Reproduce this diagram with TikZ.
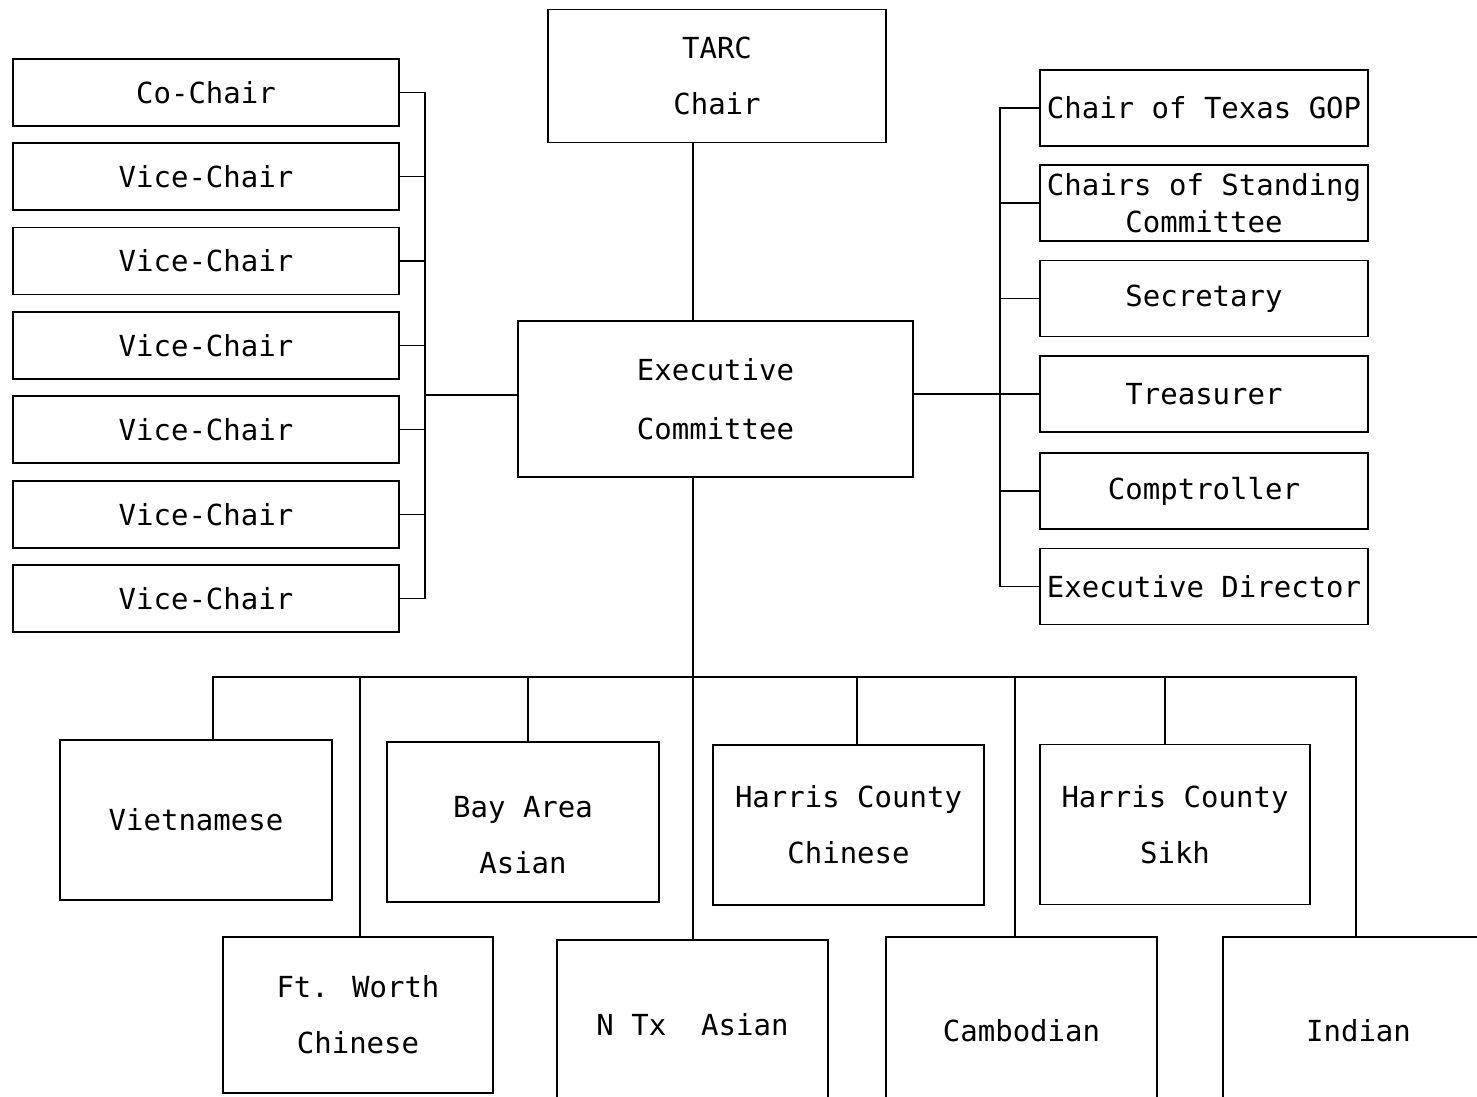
\documentclass[tikz,border=0pt]{standalone}
\usepackage{fontspec}
\newfontfamily\plotfont{DejaVu Sans Mono}
\begin{document}
\begin{tikzpicture}[x=1pt,y=-1pt,
  every node/.style={font=\plotfont\fontsize{29}{56}\selectfont},
  box/.style={draw,line width=1.6pt,rectangle,inner sep=0pt,align=center},
  lbox/.style={box,minimum width=386,minimum height=67},
  rbox/.style={box,minimum width=328,minimum height=76},
  gbox/.style={box,minimum width=271,minimum height=160},
  conn/.style={line width=1.6pt}]
\clip (0,0) rectangle (1477,1096);
\fill[white] (0,0) rectangle (1477,1096);
% top
\node[box,minimum width=338,minimum height=133] (tarc) at (717,76) {TARC\\Chair};
\node[box,minimum width=395,minimum height=156] (exec) at (715.5,399) {Executive\\[3pt]Committee};
% left column
\node[lbox] (co) at (206,92.5) {Co-Chair};
\node[lbox] (v1) at (206,176.5) {Vice-Chair};
\node[lbox] (v2) at (206,261) {Vice-Chair};
\node[lbox] (v3) at (206,345.5) {Vice-Chair};
\node[lbox] (v4) at (206,429.5) {Vice-Chair};
\node[lbox] (v5) at (206,514.5) {Vice-Chair};
\node[lbox] (v6) at (206,598.5) {Vice-Chair};
% right column
\node[rbox] (gop) at (1204,108) {Chair of Texas GOP};
\node[rbox,font=\plotfont\fontsize{29}{37}\selectfont] (stand) at (1204,203) {Chairs of Standing\\Committee};
\node[rbox] (sec) at (1204,298.5) {Secretary};
\node[rbox] (tre) at (1204,394) {Treasurer};
\node[rbox] (comp) at (1204,491) {Comptroller};
\node[rbox] (edir) at (1204,586.5) {Executive Director};
% groups top row
\node[gbox,minimum width=272] (viet) at (196,820) {Vietnamese};
\node[gbox,minimum width=272] (bay) at (523,822) {\rule{0pt}{48pt}Bay Area\\Asian};
\node[gbox] (hcc) at (848.5,825) {Harris County\\Chinese};
\node[gbox,minimum width=270] (sikh) at (1175,824.5) {Harris County\\Sikh};
% groups bottom row
\node[gbox,minimum width=270,minimum height=156] (ftw) at (358,1015) {Ft. Worth\\Chinese};
\node[gbox,minimum height=170] (ntx) at (692.5,1025) {N Tx\ \ Asian};
\node[gbox,minimum height=188] (camb) at (1021.5,1031) {Cambodian};
\node[gbox,minimum height=188] (ind) at (1358.5,1031) {Indian};
% coordinates
\coordinate (lbus) at (425,395);
\coordinate (rbus) at (1000,394);
\coordinate (bbus) at (693,677);
% connectors
\draw[conn] (tarc.south -| bbus) -- (exec.north -| bbus);
\draw[conn] (lbus -| exec.west) -- (lbus);
\foreach \n in {co,v1,v2,v3,v4,v5,v6} \draw[conn] (\n.east) -| (lbus);
\draw[conn] (rbus -| exec.east) -- (rbus);
\foreach \n in {gop,stand,sec,tre,comp,edir} \draw[conn] (\n.west) -| (rbus);
\draw[conn] (exec.south -| bbus) -- (bbus) -- (ntx.north -| bbus);
\draw[conn] ([xshift=17]viet.north) |- (bbus);
\draw[conn] ([xshift=5]bay.north) |- (bbus);
\draw[conn] ([xshift=8.5]hcc.north) |- (bbus);
\draw[conn] ([xshift=-10]sikh.north) |- (bbus);
\draw[conn] ([xshift=2]ftw.north) |- (bbus);
\draw[conn] ([xshift=-6.5]camb.north) |- (bbus);
\draw[conn] ([xshift=-2.5]ind.north) |- (bbus);
\end{tikzpicture}
\end{document}
